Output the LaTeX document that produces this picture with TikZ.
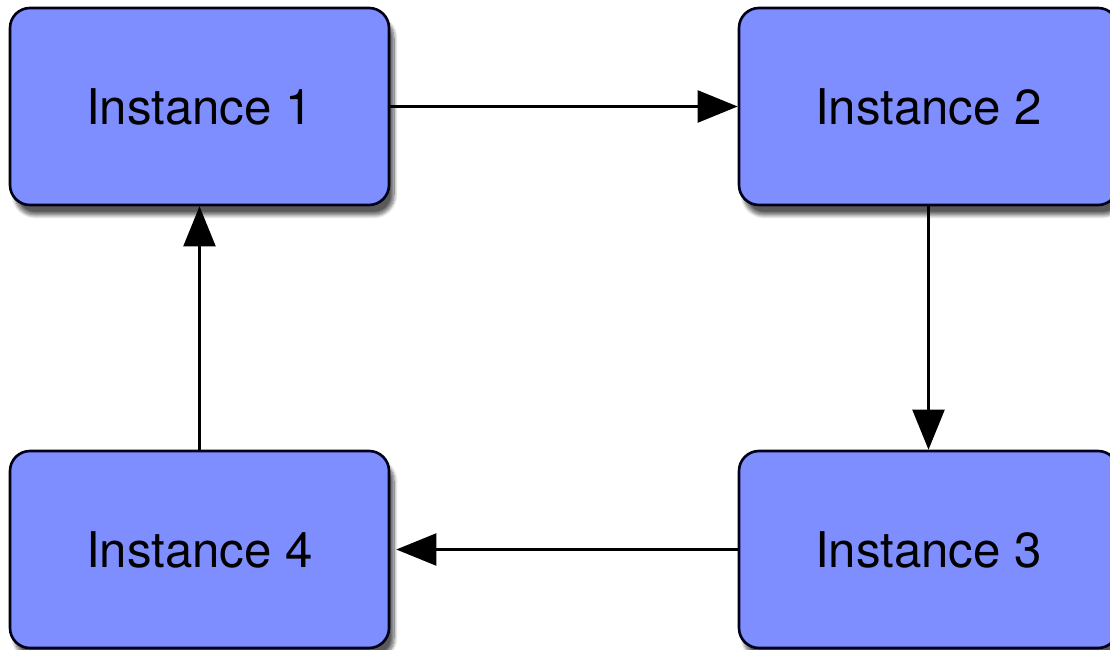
\documentclass[tikz,border=0pt]{standalone}
\usepackage{fontspec}
\setmainfont{TeX Gyre Heros}
\usetikzlibrary{arrows.meta}
\usetikzlibrary{shadows.blur}
\definecolor{instblue}{RGB}{127,142,255}
\tikzset{
  instbox/.style={rectangle,rounded corners=0.4cm,draw=black!90!blue,line width=1.5pt,
    fill=instblue,minimum width=7.58cm,minimum height=3.94cm,
    font=\fontsize{28}{33}\selectfont,
    blur shadow={shadow xshift=0.1cm,shadow yshift=-0.2cm,shadow blur steps=10,shadow blur extra rounding=0.25cm,shadow opacity=65}},
  flow/.style={line width=1.3pt,-{Triangle[length=0.8cm,width=0.64cm]}}
}

\begin{document}
\begin{tikzpicture}
\useasboundingbox (0,0) rectangle (22.2,12.98);
\node[instbox] (inst1) at (3.99,10.85) {Instance 1};
\node[instbox] (inst2) at (18.57,10.85) {Instance 2};
\node[instbox] (inst3) at (18.57,1.99) {Instance 3};
\node[instbox] (inst4) at (3.99,1.99) {Instance 4};

\draw[flow] (inst1) -- (inst2);
\draw[flow] (inst2) -- (inst3);
\draw[flow,shorten >=0.12cm] (inst3) -- (inst4);
\draw[flow] (inst4) -- (inst1);
\end{tikzpicture}
\end{document}
